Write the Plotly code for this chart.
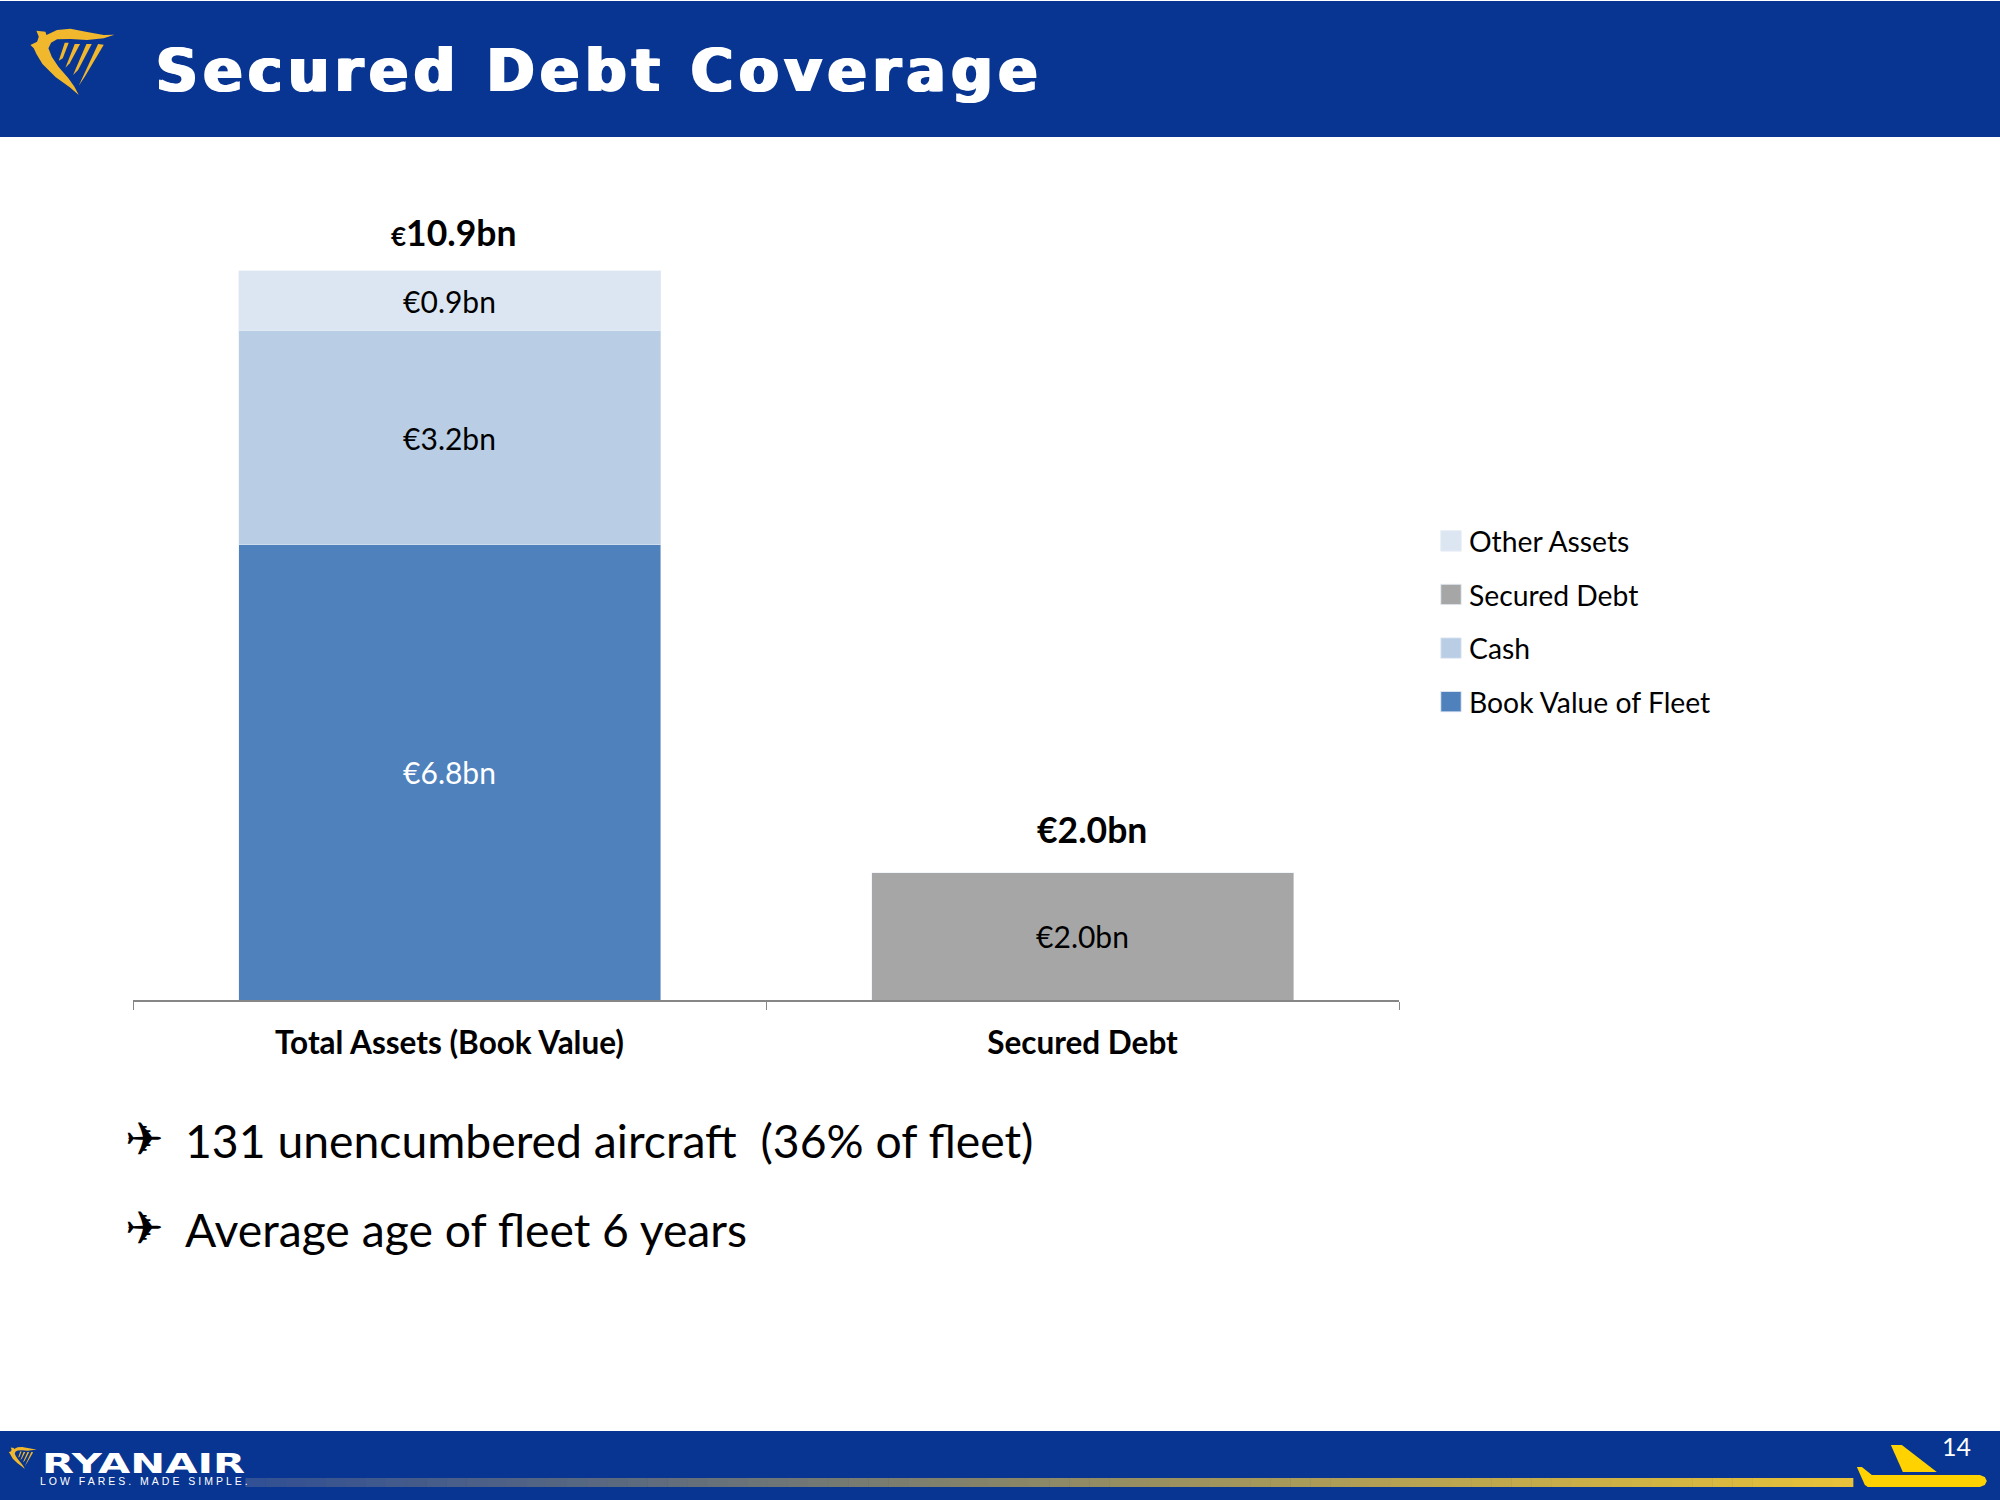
import plotly.graph_objects as go

categories = ["Total Assets (Book Value)", "Secured Debt"]
series_names = ["Book Value of Fleet", "Cash", "Secured Debt", "Other Assets"]
legend_ranks = [4, 3, 2, 1]
fleet_values = [6.8, None]
cash_values = [3.2, None]
secured_values = [None, 1.9]
other_values = [0.9, None]
fleet_labels = ["€6.8bn", ""]
cash_labels = ["€3.2bn", ""]
secured_labels = ["", "€2.0bn"]
other_labels = ["€0.9bn", ""]
total_labels = ["<span style='font-size:26px'>€</span>10.9bn", "€2.0bn"]
totals = [10.9, 1.9]
bullets = ["131 unencumbered aircraft  (36% of fleet)", "Average age of fleet 6 years"]

WIDTH, HEIGHT = 2000, 1500
LEFT, RIGHT, TOP, BOTTOM = 132.6, 601, 197, 500
NAVY = "#083591"
GOLD = "#F1B82D"
PLANE = "#FFD200"
BODY_FONT = "Lato"


def xp(x):
    return (x - LEFT) / (WIDTH - LEFT - RIGHT)


def yp(y):
    return 1 - (y - TOP) / (HEIGHT - TOP - BOTTOM)


def rect(x0, y0, x1, y1, color):
    return dict(type="rect", xref="paper", yref="paper", x0=xp(x0), x1=xp(x1),
                y0=yp(y0), y1=yp(y1), fillcolor=color, line_width=0, layer="below")


def poly(points, color, dx=0, dy=0, scale=1):
    coords = [(dx + px * scale, dy + py * scale) for px, py in points]
    path = "M " + " L ".join(f"{xp(a):.5f} {yp(b):.5f}" for a, b in coords) + " Z"
    return dict(type="path", xref="paper", yref="paper", path=path,
                fillcolor=color, line_width=0, layer="below")


def note(x, y, text, size, color="#000000", family=BODY_FONT, anchor="left", **kw):
    return dict(xref="paper", yref="paper", x=xp(x), y=yp(y), text=text, showarrow=False,
                xanchor=anchor, yanchor="middle", align=anchor,
                font=dict(size=size, color=color, family=family, **kw))


# logo drawn in a 110x85 box, zoomed 3x
harp_body = [(48, 32), (75, 35), (78, 45), (110, 30), (150, 26), (200, 36), (250, 45), (282, 44),
             (250, 55), (200, 60), (150, 57), (110, 58), (92, 68), (84, 85), (94, 110), (114, 140),
             (144, 175), (162, 200), (175, 225), (148, 202), (106, 172), (66, 132), (48, 102),
             (40, 85), (30, 75), (50, 65), (55, 50)]
harp_strings = [[(133, 68), (145, 68), (127, 115), (115, 122)],
                [(163, 72), (179, 72), (148, 130), (135, 143)],
                [(198, 72), (214, 72), (173, 150), (158, 165)],
                [(233, 72), (250, 74), (193, 170), (175, 197)]]

shapes = [rect(-2, 1, WIDTH + 2, 137, NAVY), rect(-2, 1431, WIDTH + 2, HEIGHT + 2, NAVY)]
for part in [harp_body] + harp_strings:
    shapes.append(poly(part, GOLD, dx=20, dy=20, scale=1 / 3))
    shapes.append(poly(part, GOLD, dx=5, dy=1444, scale=1 / 9))

# footer stripe fading from navy grey to yellow
stripe_start, stripe_end = 245, 1853
stripe_steps = 80
for i in range(stripe_steps):
    t = i / (stripe_steps - 1)
    c0, c1 = (50, 80, 148), (232, 194, 58)
    col = "rgb(%d,%d,%d)" % tuple(a + (b - a) * t for a, b in zip(c0, c1))
    x0 = stripe_start + (stripe_end - stripe_start) * i / stripe_steps
    x1 = stripe_start + (stripe_end - stripe_start) * (i + 1) / stripe_steps
    shapes.append(rect(x0, 1478, x1 + 0.5, 1487, col))

shapes.append(poly([(1857, 1467), (1862, 1467), (1872, 1475), (1980, 1475), (1985, 1477), (1987, 1481),
                    (1985, 1485), (1980, 1487), (1868, 1487), (1865, 1485)], PLANE))
shapes.append(poly([(1891, 1445), (1902, 1445), (1937, 1472), (1903, 1472)], PLANE))

fig = go.Figure()
traces = [
    (fleet_values, fleet_labels, "#4F81BD", "#FFFFFF"),
    (cash_values, cash_labels, "#B9CDE5", "#000000"),
    (secured_values, secured_labels, "#A6A6A6", "#000000"),
    (other_values, other_labels, "#DCE6F2", "#000000"),
]
for name, rank, (values, labels, color, text_color) in zip(series_names, legend_ranks, traces):
    fig.add_trace(go.Bar(
        name=name, x=categories, y=values, text=labels, legendgroup=name, legendrank=rank,
        marker_color=color, textposition="inside", insidetextanchor="middle",
        textangle=0, textfont=dict(size=30, color=text_color, family=BODY_FONT),
        hoverinfo="skip",
    ))

annotations = [
    note(154, 71, "Secured Debt Coverage", 58, "#FFFFFF", "DejaVu Sans", weight="bold",
         shadow="1.5px 0 #fff, -1.5px 0 #fff"),
    note(40, 1463, "RYANAIR", 27, "#FFFFFF", "DejaVu Sans", weight="bold"),
    note(38, 1481, "LOW FARES. MADE SIMPLE.", 10.5, "#FFFFFF", "Liberation Sans"),
    note(1957, 1446, "14", 25, "#FFFFFF", anchor="center"),
]
for i, line in enumerate(bullets):
    y = 1140 + i * 89
    annotations.append(note(123, y - 1, "✈", 46, family="DejaVu Sans"))
    annotations.append(note(183, y, line, 46.3))
for cat, total, label, shift, gap in zip(categories, totals, total_labels, [4, 9], [38, 43]):
    annotations.append(dict(x=cat, y=total, text=label, showarrow=False, xshift=shift, yshift=gap,
                            font=dict(size=35.5, color="#000000", family=BODY_FONT, weight="bold")))

fig.update_layout(
    width=WIDTH,
    height=HEIGHT,
    margin=dict(l=LEFT, r=RIGHT, t=TOP, b=BOTTOM, autoexpand=False),
    barmode="stack",
    bargap=1 / 3,
    plot_bgcolor="#FFFFFF",
    paper_bgcolor="#FFFFFF",
    shapes=shapes,
    annotations=annotations,
    legend=dict(
        x=xp(1429), xanchor="left", y=yp(516), yanchor="top",
        traceorder="grouped", tracegroupgap=13.8,
        font=dict(size=28.3, color="#000000", family=BODY_FONT),
        itemwidth=30, bgcolor="rgba(0,0,0,0)",
    ),
)
fig.update_xaxes(
    tickson="boundaries", ticks="outside", ticklen=8, tickcolor="#868686", tickwidth=1,
    showline=True, linecolor="#868686", linewidth=2, showgrid=False, zeroline=False,
    ticklabelstandoff=14,
    tickfont=dict(size=31.5, color="#000000", family=BODY_FONT, weight="bold"),
)
fig.update_yaxes(visible=False, range=[0, 12], showgrid=False, zeroline=False)

spacing_js = """
document.body.style.margin = '0';
var spaced = {'Secured Debt Coverage': '5.5px', 'LOW FARES. MADE SIMPLE.': '3px'};
document.querySelectorAll('.annotation-text').forEach(function (el) {
    if (spaced[el.textContent]) { el.style.letterSpacing = spaced[el.textContent]; }
    if (el.textContent === 'RYANAIR') {
        el.setAttribute('textLength', '203');
        el.setAttribute('lengthAdjust', 'spacingAndGlyphs');
    }
});
document.querySelectorAll('.legendpoints path').forEach(function (el) {
    el.setAttribute('transform', 'translate(22,0) scale(1.7)');
});
"""
fig.write_html("out.html", post_script=spacing_js, config={"displayModeBar": False})
